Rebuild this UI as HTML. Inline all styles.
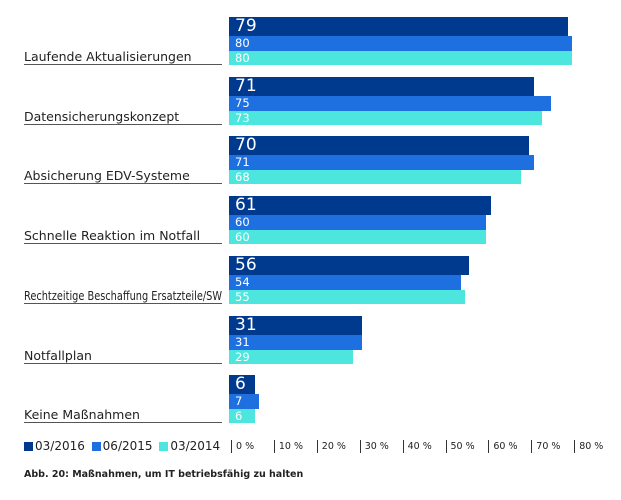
<!DOCTYPE html>
<html><head><meta charset="utf-8"><style>
body{margin:0;background:#fff;width:621px;height:500px;position:relative;font-family:"DejaVu Sans","Liberation Sans",sans-serif;overflow:hidden}
.l{position:absolute;left:24px;width:198px;border-bottom:1.5px solid #555;font-size:12.5px;color:#222;line-height:14px;white-space:nowrap}
.l span{display:inline-block;transform-origin:0 50%}
.b{position:absolute;left:229px;color:#fff;box-sizing:border-box;padding-left:6px;white-space:nowrap}
.d{background:#003a8f;height:19px;font-size:17px;line-height:19px}
.m{background:#1e6fe0;height:15px;font-size:11.5px;line-height:15px}
.c{background:#4de6de;height:14px;font-size:11.5px;line-height:14px}
.t{position:absolute;top:440px;font-size:9.5px;color:#222;border-left:1px solid #333;padding-left:4px;line-height:13px}
.lg{position:absolute;top:440px;font-size:12px;color:#222;line-height:13px}
.sq{display:inline-block;width:9px;height:9px;margin-right:2px;vertical-align:-1px}
</style></head><body>
<div id="g"></div>
<script>
var d=[["Laufende Aktualisierungen",79,80,80],["Datensicherungskonzept",71,75,73],["Absicherung EDV-Systeme",70,71,68],["Schnelle Reaktion im Notfall",61,60,60],["Rechtzeitige Beschaffung Ersatzteile/SW",56,54,55],["Notfallplan",31,31,29],["Keine Maßnahmen",6,7,6]];
var h="",s=4.29;
d.forEach(function(r,i){var y=17+i*59.7;
h+='<div class="b d" style="top:'+y+'px;width:'+(r[1]*s)+'px">'+r[1]+'</div>';
h+='<div class="b m" style="top:'+(y+19)+'px;width:'+(r[2]*s)+'px">'+r[2]+'</div>';
h+='<div class="b c" style="top:'+(y+34)+'px;width:'+(r[3]*s)+'px">'+r[3]+'</div>';
h+='<div class="l" style="top:'+(y+33)+'px"><span>'+r[0]+'</span></div>';});
for(var k=0;k<=8;k++){h+='<div class="t" style="left:'+(231+k*42.9)+'px">'+(k*10)+' %</div>';}
document.getElementById("g").innerHTML=h;
document.querySelectorAll(".l span").forEach(function(e){var w=e.getBoundingClientRect().width;if(w>198)e.style.transform="scaleX("+(198/w)+")";});
</script>
<div class="lg" style="left:24px"><span class="sq" style="background:#003a8f"></span>03/2016 <span class="sq" style="background:#1e6fe0;margin-left:3px"></span>06/2015 <span class="sq" style="background:#4de6de;margin-left:3px"></span>03/2014</div>
<div style="position:absolute;left:24px;top:469px;font-size:9.5px;font-weight:bold;color:#222">Abb. 20: Maßnahmen, um IT betriebsfähig zu halten</div>
</body></html>
